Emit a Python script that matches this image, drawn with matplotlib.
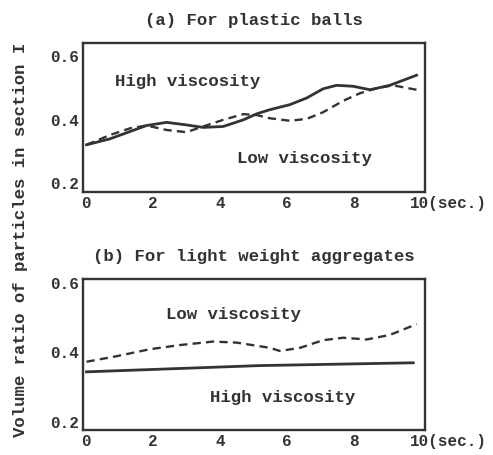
import matplotlib.pyplot as plt

plt.rcParams['font.family'] = ['Liberation Mono', 'DejaVu Sans Mono']
plt.rcParams['font.weight'] = 'bold'

# (a) plastic balls
a_high_t = [0.02, 0.72, 1.81, 2.41, 3.0, 3.5, 4.1, 4.7, 5.1, 5.49, 6.09, 6.59,
            7.08, 7.48, 7.98, 8.48, 9.07, 9.87]
a_high_v = [0.320, 0.339, 0.381, 0.391, 0.383, 0.375, 0.378, 0.399, 0.418, 0.431,
            0.447, 0.468, 0.497, 0.508, 0.505, 0.494, 0.508, 0.540]
a_low_t = [0.02, 0.72, 1.31, 1.81, 2.41, 3.0, 3.5, 4.1, 4.7, 5.1, 5.49, 6.09, 6.59,
           7.08, 7.68, 8.18, 8.68, 9.17, 9.87]
a_low_v = [0.320, 0.351, 0.372, 0.381, 0.367, 0.360, 0.378, 0.399, 0.417, 0.414,
           0.404, 0.396, 0.402, 0.423, 0.459, 0.483, 0.499, 0.508, 0.494]

# (b) light weight aggregates
b_high_t = [0.02, 5.19, 9.77]
b_high_v = [0.344, 0.362, 0.370]
b_low_t = [0.02, 0.92, 1.91, 2.81, 3.8, 4.5, 5.1, 5.49, 5.79, 6.39, 7.08, 7.68,
           8.38, 9.07, 9.87]
b_low_v = [0.373, 0.389, 0.409, 0.421, 0.431, 0.428, 0.419, 0.413, 0.404, 0.413,
           0.435, 0.442, 0.437, 0.450, 0.481]

xticks = [0, 2, 4, 6, 8, 10]
xticklabels = ['0', '2', '4', '6', '8', '']
yticks = [0.2, 0.4, 0.6]
yticklabels = ['0.2', '0.4', '0.6']

fig = plt.figure(figsize=(4.93, 4.55), dpi=100)
ax1 = fig.add_axes([0.168, 0.578, 0.694, 0.327])
ax2 = fig.add_axes([0.168, 0.055, 0.694, 0.332])

ink = '#333333'
fs = 12.5
tfs = 11.5


def style(ax, ylim, title):
    ax.set_xlim(-0.09, 10.12)
    ax.set_ylim(*ylim)
    ax.set_xticks(xticks)
    ax.set_xticklabels(xticklabels)
    ax.set_yticks(yticks)
    ax.set_yticklabels(yticklabels)
    ax.tick_params(length=0, labelsize=tfs, colors=ink, pad=3)
    for s in ax.spines.values():
        s.set_linewidth(1.7)
        s.set_color(ink)
    ax.set_title(title, fontsize=fs, color=ink, pad=13, fontweight='bold')
    # last x tick label carries the unit
    ax.annotate('10(sec.)', xy=(10, 0), xycoords=('data', 'axes fraction'),
                xytext=(-8, -3), textcoords='offset points',
                ha='left', va='top', fontsize=tfs, color=ink)


ax1.plot(a_high_t, a_high_v, color=ink, lw=2.0)
ax1.plot(a_low_t, a_low_v, color=ink, lw=1.7, dashes=(3.5, 2.2))
style(ax1, (0.171, 0.641), '(a) For plastic balls')
ax1.text(0.87, 0.52, 'High viscosity', fontsize=fs, color=ink, va='center')
ax1.text(4.5, 0.276, 'Low viscosity', fontsize=fs, color=ink, va='center')

ax2.plot(b_high_t, b_high_v, color=ink, lw=2.0)
ax2.plot(b_low_t, b_low_v, color=ink, lw=1.7, dashes=(3.5, 2.2))
style(ax2, (0.177, 0.611), '(b) For light weight aggregates')
ax2.text(2.39, 0.509, 'Low viscosity', fontsize=fs, color=ink, va='center')
ax2.text(3.7, 0.27, 'High viscosity', fontsize=fs, color=ink, va='center')

fig.text(0.042, 0.472, 'Volume ratio of particles in section I', rotation=90,
         ha='center', va='center', fontsize=fs, color=ink)

fig.savefig('out.png', dpi=100)
